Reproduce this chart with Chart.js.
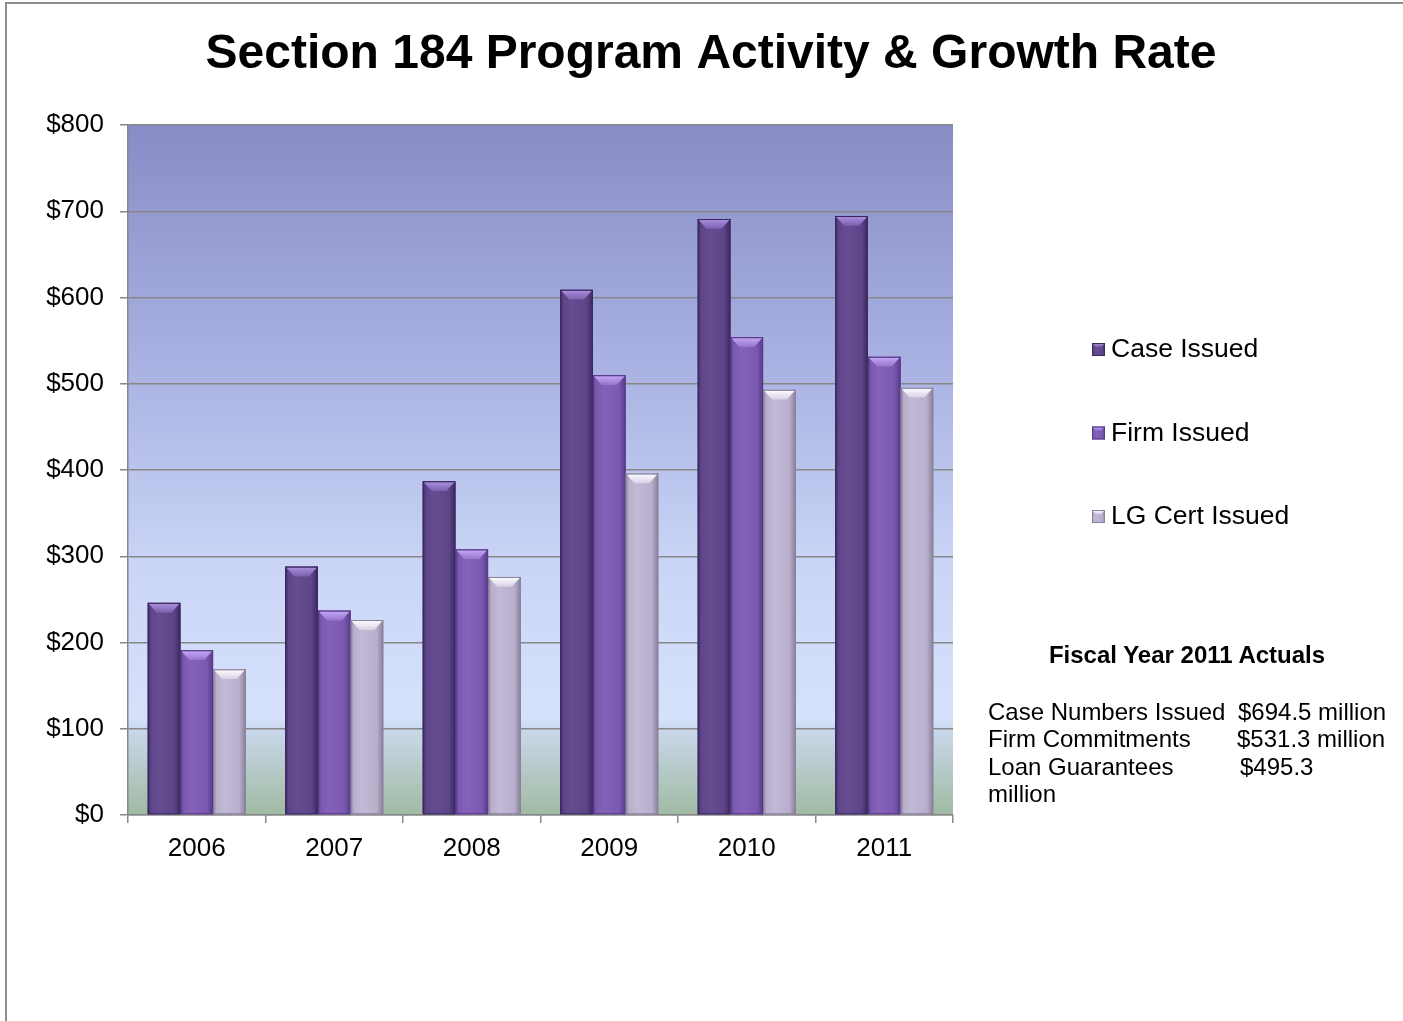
<!DOCTYPE html>
<html>
<head>
<meta charset="utf-8">
<script src="https://cdn.jsdelivr.net/npm/chart.js@4.4.1/dist/chart.umd.min.js"></script>
<style>
  body { margin: 0; background: #fff; font-family: "Liberation Sans", Arial, sans-serif; }
  #frame { position: absolute; left: 5px; top: 2px; width: 1500px; height: 1100px; border: 2px solid #8e8e8e; box-sizing: border-box; }
  #wrap { position: absolute; left: 0; top: 0; width: 1403px; height: 1021px; }
  #actuals { position: absolute; left: 988px; top: 641px; width: 410px; font-size: 24px; line-height: 27.5px; color: #000; }
  #actuals .head { font-weight: bold; text-align: center; width: 398px; margin-bottom: 29px; }
  #actuals .row span { display: inline-block; width: 250px; }
</style>
</head>
<body>
<div id="frame"></div>
<div id="wrap"><canvas id="barChart" width="1403" height="1021"></canvas></div>
<div id="actuals">
  <div class="head">Fiscal Year 2011 Actuals</div>
  <div class="row"><span>Case Numbers Issued</span>$694.5 million</div>
  <div class="row"><span style="width:249px">Firm Commitments</span>$531.3 million</div>
  <div class="row"><span style="width:252px">Loan Guarantees</span>$495.3</div>
  <div class="row">million</div>
</div>
<script>
// Dados do gráfico (milhões de dólares)
const anos = ['2006', '2007', '2008', '2009', '2010', '2011'];
const caseIssued = [246, 288, 387, 609, 691, 694.5];
const firmIssued = [191, 237, 308, 510, 554, 531.3];
const lgCertIssued = [169, 226, 276, 396, 493, 495.3];
const seriesNames = ['Case Issued', 'Firm Issued', 'LG Cert Issued'];

// cores de cada série: corpo, borda escura, chanfro de cima
const paleta = [
    { body: '#5e4589', light: '#664d92', edge: '#3a285e', bevel: '#ad92e2', bevel2: '#7a60ad' },
    { body: '#7b59b1', light: '#8462ba', edge: '#573b89', bevel: '#c8aaf8', bevel2: '#9575cc' },
    { body: '#b9afcd', light: '#c2b9d5', edge: '#878099', bevel: '#ffffff', bevel2: '#d8d0e6' }
];

const fonte = '"Liberation Sans", Arial, sans-serif';
const cinza = '#878787';

// fundo degradê da área do gráfico
const fundoPlugin = {
    id: 'fundo',
    beforeDraw(chart) {
        const { ctx, chartArea: a } = chart;
        const g = ctx.createLinearGradient(0, a.top, 0, a.bottom);
        g.addColorStop(0, '#888cc6');
        g.addColorStop(0.35, '#a9b2e2');
        g.addColorStop(0.65, '#cbd6f7');
        g.addColorStop(0.86, '#d6e1fb');
        g.addColorStop(0.875, '#cad8ec');
        g.addColorStop(1, '#a0baa2');
        ctx.save();
        ctx.fillStyle = g;
        ctx.fillRect(a.left, a.top, a.right - a.left, a.bottom - a.top);
        ctx.restore();
    }
};

function desenhaBarra(ctx, left, top, w, h, cor) {
    const right = left + w;
    const g = ctx.createLinearGradient(left, 0, right, 0);
    g.addColorStop(0, cor.edge);
    g.addColorStop(0.1, cor.body);
    g.addColorStop(0.35, cor.light);
    g.addColorStop(0.8, cor.body);
    g.addColorStop(1, cor.edge);
    ctx.fillStyle = g;
    ctx.fillRect(left, top, w, h);
    // chanfro no topo
    const b = Math.min(10, h, w * 0.3);
    const ins = Math.min(9, w * 0.3);
    const gb = ctx.createLinearGradient(0, top, 0, top + b);
    gb.addColorStop(0, cor.bevel);
    gb.addColorStop(1, cor.bevel2);
    ctx.fillStyle = gb;
    ctx.beginPath();
    ctx.moveTo(left + 1, top + 1);
    ctx.lineTo(right - 1, top + 1);
    ctx.lineTo(right - ins, top + b);
    ctx.lineTo(left + ins, top + b);
    ctx.closePath();
    ctx.fill();
    ctx.strokeStyle = cor.edge;
    ctx.lineWidth = 1;
    ctx.strokeRect(left + 0.5, top + 0.5, w - 1, h - 1);
}

// barras com efeito de relevo
const relevoPlugin = {
    id: 'relevo',
    afterDatasetsDraw(chart) {
        const ctx = chart.ctx;
        ctx.save();
        chart.data.datasets.forEach((ds, i) => {
            const meta = chart.getDatasetMeta(i);
            meta.data.forEach(bar => {
                const p = bar.getProps(['x', 'y', 'base', 'width'], true);
                desenhaBarra(ctx, p.x - p.width / 2, p.y, p.width, p.base - p.y, paleta[i]);
            });
        });
        ctx.restore();
    }
};

// legenda à direita
const legendaPlugin = {
    id: 'legendaLateral',
    afterDraw(chart) {
        const { ctx, chartArea: a } = chart;
        ctx.save();
        ctx.font = '26.5px ' + fonte;
        ctx.textBaseline = 'middle';
        chart.data.datasets.forEach((ds, i) => {
            const y = a.top + 224 + i * 83.5;
            const x = a.right + 139;
            desenhaBarra(ctx, x, y - 6, 13, 13, paleta[i]);
            ctx.fillStyle = '#000';
            ctx.fillText(ds.label, x + 19, y + 1);
        });
        ctx.restore();
    }
};

const ctx = document.getElementById('barChart').getContext('2d');
const cores = paleta.map(c => c.body);
const barChart = new Chart(ctx, {
    type: 'bar',
    data: {
        labels: anos,
        datasets: [caseIssued, firmIssued, lgCertIssued].map((valores, i) => ({
            label: seriesNames[i],
            data: valores,
            backgroundColor: cores[i],
            borderWidth: 0,
            categoryPercentage: 0.713,
            barPercentage: 1
        }))
    },
    options: {
        responsive: false,
        animation: false,
        devicePixelRatio: 1,
        layout: { padding: { left: 19, right: 0, top: 0, bottom: 0 } },
        plugins: {
            legend: { display: false },
            tooltip: { enabled: false },
            title: {
                display: true,
                text: 'Section 184 Program Activity & Growth Rate',
                color: '#000',
                font: { family: fonte, size: 48, weight: 'bold', lineHeight: 1.2 },
                padding: { top: 26, bottom: 41.4 }
            }
        },
        scales: {
            x: {
                grid: { display: true, drawOnChartArea: false, offset: true, tickLength: 8, color: cinza, lineWidth: 1.5 },
                border: { color: cinza, width: 1.5 },
                ticks: { color: '#000', font: { family: fonte, size: 26 }, padding: 10 },
                afterFit(s) { s.height = 1021 - 815; }
            },
            y: {
                min: 0,
                max: 800,
                grid: { color: cinza, lineWidth: 1.5, tickLength: 8 },
                border: { color: cinza, width: 1.5 },
                ticks: {
                    stepSize: 100,
                    color: '#000',
                    padding: 16,
                    font: { family: fonte, size: 26 },
                    callback: v => '$' + v
                },
                afterFit(s) { s.width = 128 - 19; }
            },
            espaco: {
                type: 'linear',
                position: 'right',
                display: true,
                grid: { display: false },
                border: { display: false },
                ticks: { display: false },
                afterFit(s) { s.width = 1403 - 953; }
            }
        }
    },
    plugins: [fundoPlugin, relevoPlugin, legendaPlugin]
});
</script>
</body>
</html>
